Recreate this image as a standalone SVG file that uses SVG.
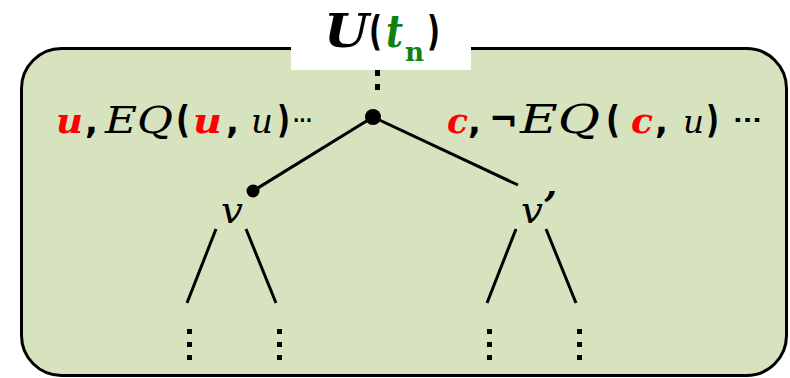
<svg xmlns="http://www.w3.org/2000/svg" width="790" height="378" viewBox="0 0 790 378">
<style>
.m{font-family:"DejaVu Serif",serif;font-style:italic;}
.b{font-weight:bold;}
.p{font-family:"DejaVu Sans",sans-serif;font-weight:bold;}
.red{fill:#ff0000;}
.grn{fill:#118011;}
.ln{stroke:#000;stroke-width:3;fill:none;}
</style>
<g id="frame">
<rect x="21.5" y="48.5" width="765" height="327" rx="40" ry="40" fill="#d7e3bf" stroke="#000" stroke-width="3"/>
<rect x="291" y="0" width="180" height="70" fill="#ffffff"/>
</g>
<g id="title">
<text class="m b" x="324" y="47" font-size="46" textLength="45" lengthAdjust="spacingAndGlyphs">U</text>
<text class="p" x="369" y="45" font-size="40" textLength="13" lengthAdjust="spacingAndGlyphs">(</text>
<text class="m b grn" x="386" y="47" font-size="44" textLength="17" lengthAdjust="spacingAndGlyphs">t</text>
<text font-family="DejaVu Serif,serif" font-weight="bold" class="grn" x="405" y="61" font-size="26" textLength="19" lengthAdjust="spacingAndGlyphs">n</text>
<text class="p" x="427" y="45" font-size="40" textLength="13" lengthAdjust="spacingAndGlyphs">)</text>
</g>
<g id="connectors">
<rect x="375" y="70" width="5" height="6"/>
<rect x="375" y="84" width="5" height="6"/>
<line class="ln" x1="373" y1="117" x2="253" y2="191"/>
<line class="ln" x1="373" y1="117" x2="518" y2="185"/>
<line class="ln" x1="216" y1="229" x2="187" y2="303"/>
<line class="ln" x1="246" y1="229" x2="276" y2="303"/>
<line class="ln" x1="516" y1="229" x2="487" y2="303"/>
<line class="ln" x1="546" y1="229" x2="576" y2="303"/>
<g id="dots">
<rect x="187" y="329" width="5" height="5"/><rect x="187" y="342" width="5" height="5"/><rect x="187" y="355" width="5" height="5"/>
<rect x="277" y="329" width="5" height="5"/><rect x="277" y="342" width="5" height="5"/><rect x="277" y="355" width="5" height="5"/>
<rect x="487" y="329" width="5" height="5"/><rect x="487" y="342" width="5" height="5"/><rect x="487" y="355" width="5" height="5"/>
<rect x="577" y="329" width="5" height="5"/><rect x="577" y="342" width="5" height="5"/><rect x="577" y="355" width="5" height="5"/>
</g>
</g>
<g id="root">
<circle cx="373" cy="117" r="8"/>
</g>
<g id="node-v">
<circle cx="253" cy="191" r="6.5"/>
<text class="m" x="221" y="223" font-size="38" textLength="22" lengthAdjust="spacingAndGlyphs">v</text>
</g>
<g id="node-v2">
<text class="m" x="521" y="223" font-size="38" textLength="22" lengthAdjust="spacingAndGlyphs">v</text>
<text class="m b" x="543" y="220" font-size="40">’</text>
</g>
<g id="label-left">
<text class="m b red" x="56" y="133" font-size="36" textLength="27" lengthAdjust="spacingAndGlyphs">u</text>
<text class="p" x="85" y="133" font-size="34">,</text>
<text class="m" x="105" y="133" font-size="38" textLength="68" lengthAdjust="spacingAndGlyphs">EQ</text>
<text class="p" x="176" y="132" font-size="38" textLength="14" lengthAdjust="spacingAndGlyphs">(</text>
<text class="m b red" x="193" y="133" font-size="36" textLength="29" lengthAdjust="spacingAndGlyphs">u</text>
<text class="p" x="226" y="133" font-size="34">,</text>
<text class="m" x="251" y="133" font-size="34" textLength="22" lengthAdjust="spacingAndGlyphs">u</text>
<text class="p" x="277" y="132" font-size="38" textLength="13" lengthAdjust="spacingAndGlyphs">)</text>
<text class="p" x="293" y="127" font-size="20" textLength="19" lengthAdjust="spacingAndGlyphs">···</text>
</g>
<g id="label-right">
<text class="m b red" x="447" y="133" font-size="36" textLength="21" lengthAdjust="spacingAndGlyphs">c</text>
<text class="p" x="468" y="133" font-size="34">,</text>
<text class="p" x="489" y="132" font-size="36" textLength="29" lengthAdjust="spacingAndGlyphs">¬</text>
<text class="m" x="520" y="133" font-size="40" textLength="80" lengthAdjust="spacingAndGlyphs">EQ</text>
<text class="p" x="606" y="132" font-size="38" textLength="14" lengthAdjust="spacingAndGlyphs">(</text>
<text class="m b red" x="631" y="133" font-size="36" textLength="22" lengthAdjust="spacingAndGlyphs">c</text>
<text class="p" x="655" y="133" font-size="34">,</text>
<text class="m" x="683" y="133" font-size="32" textLength="21" lengthAdjust="spacingAndGlyphs">u</text>
<text class="p" x="706" y="132" font-size="38" textLength="13" lengthAdjust="spacingAndGlyphs">)</text>
<text class="p" x="733" y="127" font-size="22" textLength="29" lengthAdjust="spacingAndGlyphs">···</text>
</g>
</svg>
